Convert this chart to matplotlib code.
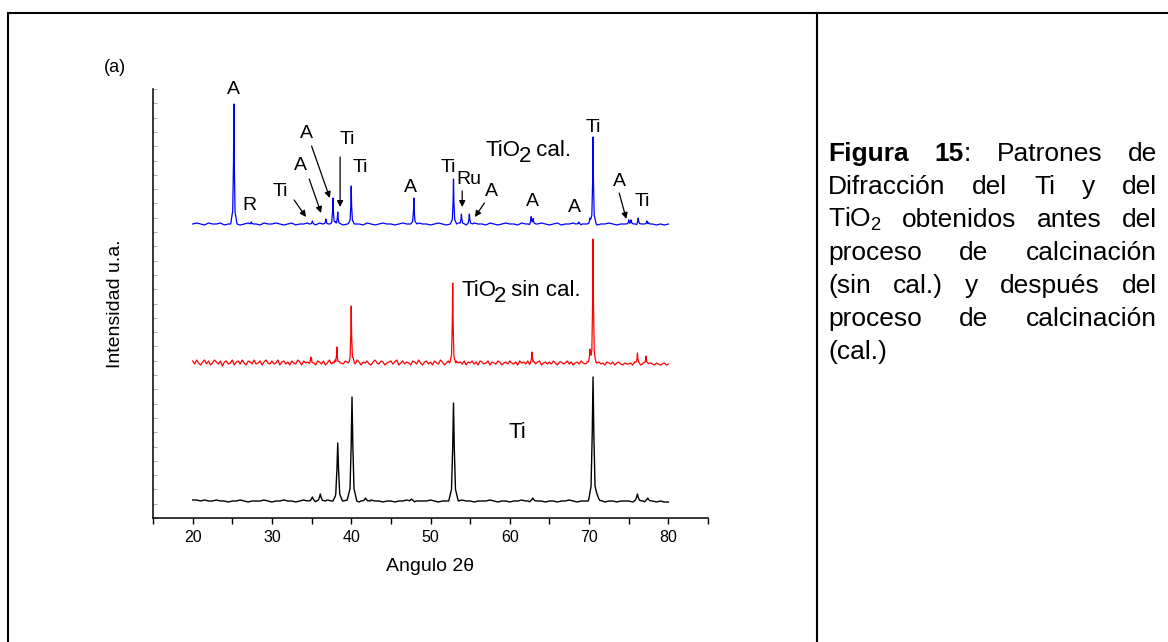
import numpy as np
import matplotlib
matplotlib.use('Agg')
import matplotlib.pyplot as plt
from matplotlib.lines import Line2D
from matplotlib.ticker import MultipleLocator

plt.rcParams['font.family'] = ['Liberation Sans', 'DejaVu Sans']
plt.rcParams['mathtext.fontset'] = 'custom'
plt.rcParams['mathtext.rm'] = 'Liberation Sans'
plt.rcParams['mathtext.it'] = 'Liberation Sans:italic'
plt.rcParams['mathtext.bf'] = 'Liberation Sans:bold'

# ---------------- data (angle 2theta in degrees, intensity in a.u.) ----------------
base_level = 17
trace_offsets = [0, 138, 277]           # Ti, TiO2 sin cal., TiO2 cal.

# Ti (black)
ti_peak_pos = [35.1, 36.1, 38.3, 40.1, 41.8, 47.6, 52.9, 62.9, 70.5, 71.1, 76.1, 77.4]
ti_peak_h   = [4, 7, 58, 104, 3, 2, 98, 3, 124, 5, 7, 3]
ti_noise = [1, 1, 0, 1, 0, 0, 1, 0, 0, -1,
            0, 0, 1, 0, -1, 0, 0, 0, 1, 0,
            -1, 0, 0, 1, 0, 0, -1, 0, 1, 0,
            0, -1, 0, 0, 1, 0, -1, 0, 0, 1,
            0, 0, -1, 0, 0, 1, 0, 0, -1, 0,
            0, -1, 0, 0, 1, 0, -1, 0, 0, 0,
            1, 0, -1, 0, 0, 0, -1, 0, 1, 0,
            0, -1, 0, 0, 0, 1, 0, -1, 0, 0,
            -1, 0, 0, 1, 0, -1, 0, 0, 0, -1,
            0, 0, -1, 0, 0, 1, 0, -1, 0, 0,
            -1, 0, 0, 0, -1, 0, 0, -1, 0, 0,
            0, -1, 0, 0, -1, 0, 0, -1, 0, -1,
            -1]

# TiO2 sin cal. (red)
sin_peak_pos = [34.9, 38.2, 40.0, 52.8, 62.8, 70.1, 70.5, 76.1, 77.2]
sin_peak_h   = [6, 16, 57, 80, 11, 14, 123, 10, 7]
sin_noise = [2, -1, 3, 0, -2, 1, 3, -1, 2, -2, 0, 3, 1, -1, 2, -3, 1, 2, -1, 0,
             3, -2, 1, 2, -1, 3, 0, -2, 2, 1, -1, 3, -1, 0, 2, -2, 1, 3, 0, -1,
             2, -1, 0, 3, -2, 1, 2, -1, 1, -2, 2, 0, -1, 3, 1, -2, 2, 0, 1, -1,
             3, 0, -2, 2, 1, -1, 2, -2, 0, 3, -1, 1, 2, -2, 1, 0, -1, 2, 1, -2,
             0, 2, -1, 3, 1, -2, 1, 0, 2, -1, -2, 1, 3, 0, -1, 2, 1, -2, 0, 1,
             2, -1, 1, 3, -2, 0, 2, -1, 1, 0, -2, 2, 1, -1, 3, 0, -2, 1, 2, -1,
             1, -2, 2, 0, -1, 3, 1, -2, 0, 2, -1, 1, -2, 2, 0, 1, -1, 2, -2, 1,
             0, 2, -1, 1, -2, 2, 1, -1, 0, 2, -2, 1, 0, -1, 2, 1, -2, 0, 1, -1,
             2, 0, -1, 1, -2, 2, 0, 1, -1, 2, -2, 0, 1, -1, 1, 2, -2, 0, 1, -1,
             1, -1, 2, 0, -2, 1, 1, -1, 0, 2, -1, 1, -2, 0, 1, -1, 2, 0, -1, 1,
             0, -1, 1, -2, 0, 1, -1, 0, -2, 1, 0, -1, 1, -2, 0, 1, -1, -2, 0, -1,
             -1, 0, -2, 1, -1, 0, -2, -1, 0, -2, -1, 0, -1, -2, 0, -1, -2, -1, 0, -2,
             -1]

# TiO2 cal. (blue)
cal_peak_pos = [25.2, 27.4, 35.1, 36.8, 37.7, 38.3, 40.0, 47.9, 52.9, 53.9, 54.9,
                62.7, 62.95, 68.7, 70.1, 70.5, 75.0, 75.3, 76.2, 77.3]
cal_peak_h   = [120, 2, 3, 5, 26, 12, 37, 26, 45, 10, 10,
                7, 5, 2, 6, 86, 3, 4, 6, 3]
cal_noise = [0, 1, 0, -1, 1, 0, 0, 1, -1, 0,
             1, 0, -1, 0, 1, 0, 0, -1, 1, 0,
             0, 1, 0, -1, 0, 1, -1, 0, 0, 1,
             0, -1, 1, 0, 0, -1, 1, 0, -1, 0,
             1, 0, 0, -1, 1, 0, -1, 0, 1, 0,
             0, -1, 0, 1, 0, 0, -1, 1, 0, 0,
             -1, 0, 1, 0, -1, 0, 0, 1, 0, -1,
             0, 1, 0, 0, -1, 1, 0, -1, 0, 1,
             0, 0, -1, 1, 0, -1, 0, 0, 1, 0,
             -1, 0, 1, -1, 0, 0, 1, 0, -1, 0,
             0, 1, -1, 0, 0, 1, 0, -1, 0, 0,
             1, 0, -1, 0, 0, 1, 0, -1, 0, -1,
             0]

# peak labels on the calcined pattern: (text, angle, intensity)
cal_labels = [("A", 25.1, 429), ("R", 27.2, 313), ("Ti", 41.2, 350), ("A", 47.5, 330),
              ("Ti", 52.2, 351), ("A", 62.9, 316), ("A", 68.2, 311), ("Ti", 70.5, 391),
              ("Ti", 76.7, 316)]
# labels with arrows: (text, text angle, text int, arrow start, arrow end)
arrow_labels = [("Ti", 31.1, 327, (32.8, 318), (34.3, 301)),
                ("A", 33.6, 353, (34.7, 339), (36.2, 305)),
                ("A", 34.4, 385, (35.0, 372), (37.3, 320)),
                ("Ti", 39.5, 378, (38.6, 361), (38.6, 311)),
                ("Ru", 54.9, 338, (54.0, 327), (54.0, 311)),
                ("A", 57.7, 326, (56.8, 315), (55.6, 301)),
                ("A", 73.8, 336, (73.8, 325), (74.7, 299))]

x_ticks = [20, 30, 40, 50, 60, 70, 80]

caption_lines = [
    [[("Figura", "bold")], [("15", "bold"), (":", "normal")], "Patrones", "de"],
    ["Difracción", "del", "Ti", "y", "del"],
    ["TiO$_2$", "obtenidos", "antes", "del"],
    ["proceso", "de", "calcinación"],
    ["(sin", "cal.)", "y", "después", "del"],
    ["proceso", "de", "calcinación"],
    ["(cal.)"],
]

# ---------------- figure ----------------
W, H = 1168, 642
fig = plt.figure(figsize=(W / 100, H / 100), dpi=100)
ax = fig.add_axes([153 / W, 1 - 518 / H, (708 - 153) / W, (518 - 89) / H])

sharp_dx = [-0.4, -0.15, -0.05, 0.0, 0.05, 0.15, 0.4]
sharp_fr = [0, 0.1, 0.5, 1, 0.5, 0.1, 0]
wide_dx = [-0.6, -0.25, -0.1, 0.0, 0.1, 0.25, 0.6]
wide_fr = [0, 0.12, 0.55, 1, 0.55, 0.12, 0]


def build(noise, step, pos, hts, dx, fr):
    grid = np.round(20 + step * np.arange(len(noise)), 4)
    noise_map = dict(zip(grid, noise))
    pts = [grid] + [np.round(p + np.array(dx), 4) for p in pos]
    x = np.unique(np.concatenate(pts))
    x = x[(x >= 20) & (x <= 80)]
    y = np.array([noise_map.get(v, 0.0) for v in x], dtype=float)
    for p, h in zip(pos, hts):
        y += np.interp(x, p + np.array(dx), h * np.array(fr), left=0, right=0)
    return x, y


traces = [
    (ti_noise, 0.5, ti_peak_pos, ti_peak_h, wide_dx, wide_fr, trace_offsets[0], 'black', 1.0),
    (sin_noise, 0.25, sin_peak_pos, sin_peak_h, sharp_dx, sharp_fr, trace_offsets[1], '#ff0000', 0.9),
    (cal_noise, 0.5, cal_peak_pos, cal_peak_h, sharp_dx, sharp_fr, trace_offsets[2], '#0000ff', 0.9),
]
for noise, step, pos, hts, dx, fr, off, col, lw in traces:
    x, y = build(noise, step, pos, hts, dx, fr)
    ax.plot(x, y + base_level + off, color=col, lw=lw)

ax.set_xlim(15, 85)
ax.set_ylim(0, 429)
for s in ['top', 'right']:
    ax.spines[s].set_visible(False)
for s in ['left', 'bottom']:
    ax.spines[s].set_linewidth(1.1)
ax.set_xticks(x_ticks)
ax.xaxis.set_minor_locator(MultipleLocator(5))
ax.tick_params(axis='x', which='both', direction='out', length=4, width=1.0,
               labelsize=11.5, pad=5)
ax.yaxis.set_major_locator(MultipleLocator(14.3))
ax.tick_params(axis='y', which='both', direction='in', length=3, width=0.5,
               color='0.55', labelleft=False)
ax.set_xlabel("Angulo 2θ", fontsize=14)
ax.xaxis.set_label_coords(0.5, -0.093)
ax.set_ylabel("Intensidad u.a.", fontsize=14)
ax.yaxis.set_label_coords(-0.052, 0.5)

fs_lab = 14
for txt, a, i in cal_labels:
    ax.text(a, i, txt, fontsize=fs_lab, ha='center', va='center')
for txt, a, i, st, en in arrow_labels:
    ax.text(a, i, txt, fontsize=fs_lab, ha='center', va='center')
    ax.annotate('', xy=en, xytext=st,
                arrowprops=dict(arrowstyle='-|>', color='black', lw=0.9,
                                mutation_scale=9, shrinkA=0, shrinkB=0))


def tio2_label(a, i, rest, fs=16):
    t1 = ax.text(a, i, 'TiO', fontsize=fs, ha='left', va='center')
    t2 = ax.annotate('2', xy=(1, 0), xycoords=t1, xytext=(-1.5, -5),
                     textcoords='offset points', fontsize=fs, ha='left', va='bottom')
    ax.annotate(rest, xy=(1, 0), xycoords=t2, xytext=(-1.0, 5),
                textcoords='offset points', fontsize=fs, ha='left', va='bottom')


tio2_label(57.0, 368, ' cal.')
tio2_label(53.9, 228, ' sin cal.')
ax.text(60.9, 86, 'Ti', fontsize=16, ha='center', va='center')

fig.text(115 / W, 1 - 67 / H, "(a)", ha='center', va='center', fontsize=13)

# frame lines
lw_frame = 1.5
fig.add_artist(Line2D([8 / W, 1], [1 - 13 / H, 1 - 13 / H], transform=fig.transFigure,
                      color='black', lw=lw_frame))
fig.add_artist(Line2D([8 / W, 8 / W], [0, 1 - 13 / H], transform=fig.transFigure,
                      color='black', lw=lw_frame))
fig.add_artist(Line2D([817 / W, 817 / W], [0, 1 - 13 / H], transform=fig.transFigure,
                      color='black', lw=lw_frame))

# justified caption
fig.canvas.draw()
renderer = fig.canvas.get_renderer()
cap_fs = 19
x_left, x_right = 828, 1157
for li, line in enumerate(caption_lines):
    yc = 151.7 + 33 * li
    ybase = H - (yc + 9)
    words = []
    for w in line:
        segs = w if isinstance(w, list) else [(w, 'normal')]
        arts = [fig.text(0, ybase / H, t, fontsize=cap_fs, fontweight=wt,
                         ha='left', va='baseline') for t, wt in segs]
        words.append(arts)
    widths = [[a.get_window_extent(renderer).width for a in arts] for arts in words]
    total = sum(sum(ws) for ws in widths)
    if li < len(caption_lines) - 1 and len(words) > 1:
        gap = (x_right - x_left - total) / (len(words) - 1)
    else:
        gap = 0.278 * cap_fs * 100 / 72
    xc = x_left
    for arts, ws in zip(words, widths):
        for a, wd in zip(arts, ws):
            a.set_x(xc / W)
            xc += wd
        xc += gap

fig.savefig('out.png', dpi=100)
